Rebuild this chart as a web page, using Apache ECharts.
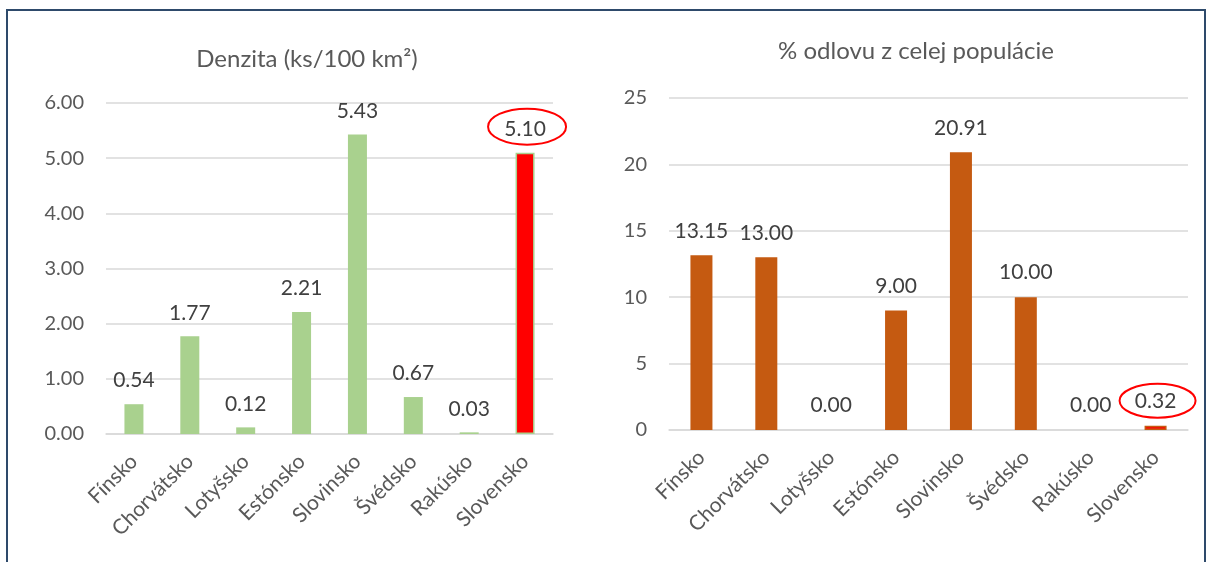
<!DOCTYPE html>
<html>
<head>
<meta charset="utf-8">
<script src="https://cdn.jsdelivr.net/npm/echarts@6/dist/echarts.min.js"></script>
<style>
html,body{margin:0;padding:0;background:#fff;}
#c{width:1209px;height:562px;}
</style>
</head>
<body>
<div id="c"></div>
<script>
const categories = ['Fínsko','Chorvátsko','Lotyšsko','Estónsko','Slovinsko','Švédsko','Rakúsko','Slovensko'];
const densityValues = [0.54, 1.77, 0.12, 2.21, 5.43, 0.67, 0.03, 5.10];
const huntValues = [13.15, 13.00, 0.00, 9.00, 20.91, 10.00, 0.00, 0.32];
const densityTicks = [0, 1, 2, 3, 4, 5, 6];
const huntTicks = [0, 5, 10, 15, 20, 25];
const highlightCategory = 'Slovensko';
const titles = ['Denzita (ks/100 km²)', '% odlovu z celej populácie'];

const FONT = 'Lato';
const GREEN = '#A9D18E';
const ORANGE = '#C55A11';
const RED = '#FF0000';
const TXT = '#595959';
const GRIDC = '#D9D9D9';

function barData(vals, base) {
  return vals.map((v, i) => {
    if (categories[i] === highlightCategory) {
      return { value: v, itemStyle: { color: RED, borderColor: base, borderWidth: 1.5 } };
    }
    return v;
  });
}

const chart = echarts.init(document.getElementById('c'), null, { renderer: 'canvas' });

function yAxis(idx, ticks, fmt) {
  return {
    type: 'value', gridIndex: idx,
    min: ticks[0], max: ticks[ticks.length - 1], interval: ticks[1] - ticks[0],
    axisLine: { show: false }, axisTick: { show: false },
    splitLine: { lineStyle: { color: GRIDC, width: 1.5 } },
    axisLabel: { color: TXT, fontFamily: FONT, fontSize: 20, margin: 22, formatter: fmt }
  };
}
function xAxis(idx) {
  return {
    type: 'category', gridIndex: idx, data: categories,
    axisLine: { show: true, lineStyle: { color: GRIDC, width: 1.5 } },
    axisTick: { show: false },
    axisLabel: { color: TXT, fontFamily: FONT, fontSize: 21, rotate: 45, margin: 24, interval: 0 }
  };
}

chart.setOption({
  animation: false,
  title: [
    { text: titles[0], left: 302, top: 42, textAlign: 'center',
      textStyle: { color: TXT, fontFamily: FONT, fontSize: 24, fontWeight: 'normal' } },
    { text: titles[1], left: 911, top: 34, textAlign: 'center',
      textStyle: { color: TXT, fontFamily: FONT, fontSize: 24, fontWeight: 'normal' } }
  ],
  grid: [
    { left: 106, right: 656, top: 103, bottom: 128 },
    { left: 669, right: 21, top: 98, bottom: 132 }
  ],
  xAxis: [xAxis(0), xAxis(1)],
  yAxis: [
    yAxis(0, densityTicks, v => v.toFixed(2)),
    yAxis(1, huntTicks, v => String(v))
  ],
  series: [
    { type: 'bar', xAxisIndex: 0, yAxisIndex: 0, barWidth: 19,
      itemStyle: { color: GREEN },
      data: barData(densityValues, GREEN),
      label: { show: true, position: 'top', distance: 13, color: '#404040', fontFamily: FONT, fontSize: 21,
        formatter: p => p.value.toFixed(2) } },
    { type: 'bar', xAxisIndex: 1, yAxisIndex: 1, barWidth: 22,
      itemStyle: { color: ORANGE },
      data: barData(huntValues, ORANGE),
      label: { show: true, position: 'top', distance: 14, color: '#404040', fontFamily: FONT, fontSize: 21,
        formatter: p => p.value.toFixed(2) } }
  ]
});

// annotations: frame and ellipses around highlighted labels
const hi = categories.indexOf(highlightCategory);
const p1 = chart.convertToPixel({ gridIndex: 0 }, [hi, densityValues[hi]]);
const p2 = chart.convertToPixel({ gridIndex: 1 }, [hi, huntValues[hi]]);
chart.setOption({
  graphic: [
    { type: 'rect', shape: { x: 7, y: 10, width: 1198, height: 600 },
      style: { fill: 'none', stroke: '#2E4A6B', lineWidth: 2 }, silent: true },
    { type: 'ellipse', shape: { cx: p1[0] + 2, cy: p1[1] - 26, rx: 39, ry: 18 },
      style: { fill: 'none', stroke: RED, lineWidth: 2 }, silent: true },
    { type: 'ellipse', shape: { cx: p2[0] + 2, cy: p2[1] - 25, rx: 38, ry: 17 },
      style: { fill: 'none', stroke: RED, lineWidth: 2 }, silent: true }
  ]
});
</script>
</body>
</html>
